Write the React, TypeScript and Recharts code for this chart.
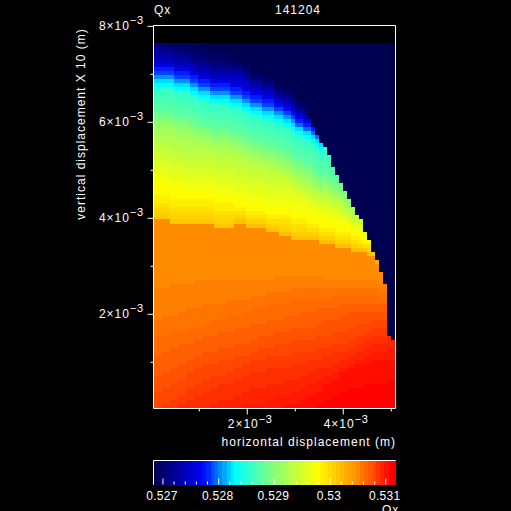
import { Scatter, ScatterChart, XAxis, YAxis } from 'recharts';

const FONT = '"Liberation Sans", sans-serif';
const WHITE = '#ffffff';

// Qx value of each level code used in QX_COLUMNS
const LEVEL_CODES = '0123456789abcdefghijklmnopqrstuvwxyzABCDEFGHIJKLMNOPQRSTUVWXYZ';
const QX_LEVELS = [
  0.52683, 0.52692, 0.527, 0.52709, 0.52718, 0.52727, 0.52735, 0.52744, 0.52753, 0.52761,
  0.5277, 0.52779, 0.52787, 0.52796, 0.52805, 0.52814, 0.52822, 0.52831, 0.5284, 0.52848,
  0.52857, 0.52866, 0.52874, 0.52883, 0.52892, 0.52901, 0.52909, 0.52918, 0.52927, 0.52935,
  0.52944, 0.52953, 0.52961, 0.5297, 0.52979, 0.52988, 0.52996, 0.53001, 0.53006, 0.53011,
  0.53016, 0.53021, 0.53025, 0.5303, 0.53035, 0.5304, 0.53045, 0.5305, 0.53055, 0.5306,
  0.53064, 0.53069, 0.53074, 0.53079, 0.53084, 0.53089, 0.53094, 0.53098, 0.53103, 0.53108,
  0.53113, 0.53118,
];

// rows at the top of each column that hold the lowest level
const NAVY_ROWS = [
  0, 0, 0, 0, 0, 0, 0, 0, 0, 0, 0, 1, 1, 1, 2, 2, 2, 2, 2, 4, 4, 4, 5, 5, 7, 7, 7, 8, 8, 8,
  10, 10, 11, 11, 12, 14, 14, 15, 19, 21, 23, 25, 26, 28, 31, 33, 35, 37, 39, 41, 43, 44, 47, 49, 52, 54, 57, 60, 73, 74,
];

// one string per column: rows under the navy | rows up to the bottom edge
const QX_COLUMNS = [
  '34567 9bcegh kkllmmnop qrrssttuuvvwwxx yyyzzABCD|LMMMMMMMMNNNNOOOOOPPPPPQQQQRRRR',
  '34567 9bcegh kkllmmnop qrrssttuuvvwwxx yyyzzABCD|LMMMMMMMMNNNNOOOOOPPPPPQQQQRRRR',
  '23567 9bcegh kkllmmnop qrrssttuuvvwwxx yyyzzABCD|LMMMMMMMNNNNNOOOOPPPPPQQQQRRRRS',
  '23567 9bcegh kkllmmnop qrrssttuuvvwwxx yyyzzABCD|LMMMMMMMNNNNNOOOOPPPPPQQQQRRRRS',
  '13467 9bcegh kkllmmnop qrrsssttuuvvwwxx yyyzzABCD|LMMMMMMMMNNNNOOOOPPPPPQQQQRRRRSS',
  '123467 9bcegh kkllmmnop qrrssttuuvvwwxx yyyzzABCD|LMMMMMMMMNNNNOOOOPPPPPQQQQRRRRSS',
  '123467 9bcegh kkllmmnop qrrssttuuvvwwxx yyyzzABCD|LMMMMMMMNNNNNOOOPPPPPQQQQRRRRSST',
  '123467 9bcegh kkllmmnop qrrssttuuvvwwxx yyyzzABCD|LMMMMMMMNNNNNOOOPPPPPQQQQRRRRSST',
  '123467 9bcegh kkllmmnop qrrsssttuuvvwwxx yyzzABCD|LMMMMMMNNNNNOOOOPPPPQQQRRRRSSSTT',
  '1123467 9bcegh kkllmmnop qrrssttuuvvwwxx yyzzABCD|LMMMMMMNNNNNOOOOPPPPQQQRRRRSSSTT',
  '1123467 9bcegh kkllmmnop qrrssttuuvvwwxx yyzzABCD|LMMMMMMMNNNNNOOOPPPPQQQRRRRSSSTTT',
  '1123467 9bcegh kkllmmnop qrssttuuvvwwxx yyzzABCD|LMMMMMMMNNNNNOOOPPPPQQQRRRRSSSTTT',
  '1123467 9bcegh kkllmmnop qrssttuuvvwwxx yyzzABCD|LMMMMMMNNNNNOOOPPPPQQQRRRRSSSTTTT',
  '1123467 9bcegh kkllmmnop qrssttuuvvwwxx yyzzABCD|LMMMMMMNNNNNOOOPPPPQQQRRRRSSSTTTT',
  '1123467 9bcegh kkllmmnop qrsttuuvvwwxx yyzzABCD|LMMMMMMNNNNOOOOPPPPQQQRRRSSSTTTTU',
  '1123467 9bcegh kkllmmnop qrssttuuvvwwxx yyzzABCD|LMMMMMMNNNNOOOOPPPPQQQRRRSSSTTTTU',
  '1123467 9bcegh kkllmmnop qrssttuuvvwwxx yyzzABCD|LMMMMMMNNNNOOOPPPPQQQRRRRSSTTTTUU',
  '1123467 9bcegh kkllmmnop qrssttuuvvwwxx yyzzABCD|LMMMMMMNNNNOOOPPPPQQQRRRRSSTTTTUU',
  '1123467 9bcegh kkllmmnop qrssttuuvvwwxx yyzzABCD|LMMMMMNNNNOOOOPPPPQQQRRRSSSTTTTUU',
  '1246789bcegh kkllmmnop qrsttuuvvwwxx yyzzABCD|LMMMMMNNNNOOOOPPPPQQQRRRSSSTTTTUU',
  '1246789bcegh kkllmmnop qrssttuuvvwwxx yyzACE|LMMMMMNNNNOOOPPPPQQQRRRSSSTTTTUUU',
  '1246789bcegh kkllmmnop qrssttuuvvwwxx yyzACE|LMMMMMNNNNOOOPPPPQQQRRRSSSTTTTUUU',
  '1246789bcegh kkllmmnop qrsttuuvvwwxx yyzACE|LMMMMMNNNOOOOPPPPQQQRRSSSTTTTUUUV',
  '1246789bcegh kkllmmnop qrssttuuvvwwxx yyzACE|LMMMMMNNNOOOOPPPPQQQRRSSSTTTTUUUV',
  '124689bcegh kkllmmnop qrsttuuvvwwxx yyzACE|LMMMMNNNOOOOPPPPQQQRRSSSTTTTUUUUV',
  '124689bcegh kkllmmnop qrsttuuvvwwxx yyzACE|LMMMMNNNOOOOPPPPQQQRRSSSTTTTUUUUV',
  '124689bcegh kkllmmnop qrsttuuvvwwxx yyzACE|LMMMMNNNOOOOPPPQQQRRRSSSTTTTUUUUV',
  '124689bcegh kkllmmnop qrstuuvvwwxx yyzACE|LMMMMNNNOOOOPPPQQQRRRSSSTTTTUUUUV',
  '124689bcegh kkllmmnop qrsttuuvvwwxx yyzACE|LMMMNNNOOOOPPPPQQQRRSSSTTTTUUUUVV',
  '124689bcegh kkllmmnop qrsttuuvvwwxx yyzACE|LMMMNNNOOOOPPPPQQQRRSSSTTTTUUUUVV',
  '12468acegh kkllmmnop qrstuuvvwwxx yyzACE|LMMMMNNNOOOOPPPQQQRRRSSSTTTTUUUVVV',
  '12468acegh kkllmmnop qrstuuvvwwxx yyzABCE|LMMMMNNNOOOOPPPQQQRRRSSSTTTTUUUVVV',
  '12468acegh kkllmmnop qrstuvvwwxx yyzABCE|LMMMMNNNOOOPPPPQQQRRRSSSTTTUUUUVVW',
  '12468acegh kkllmmnop qrstuvvwwxx yyzABCE|LMMMMNNNOOOPPPPQQQRRRSSSTTTUUUUVVW',
  '12468acegh kkllmmnop qrstuvvwwxx yyzABCE|LMMMNNNOOOOPPPQQQRRRSSSTTTTUUUVVVW',
  '12479bdgh kkllmmnop qrstuvwwxx yyzABCE|LMMMNNNOOOOPPPQQQRRRSSSTTTTUUUVVVW',
  '12479bdgh kkllmmnop qrstuvwwxx yyzABCE|LMMMNNNOOOPPPPQQQRRRSSSTTTUUUVVVWW',
  '12479bdgh kkllmmnop qrstuvwxx yyzABCE|LMMMNNNOOOPPPPQQQRRRSSSTTTUUUVVVWW',
  '9bdgh kkllmmnop qrstuvwwxx yyzACE|LMMMNNNOOOPPPPQQQRRRSSTTTUUUVVVWWW',
  'bdgh kkllmmnop qrstuvwxx yyzACE|LMMMNNNOOOPPPPQQQRRRSSTTTUUUVVVWWW',
  'dgh kkllmmnop qstuvwxx yyzACE|LMMMNNNOOPPPPQQQRRRSSSTTUUUVVVWWWX',
  'gh kkllmmnop qstuvwxx yyzACE|LMMMNNNOOPPPPQQQRRRSSSTTUUUVVVWWWX',
  'kkllmmnop qrstuvwxx yyzACE|LMMNNNOOPPPQQQQRRRSSTTTUUVVWWWWXX',
  'kllmmnop qstuvwxx yyzACE|LMMNNNOOPPPQQQQRRRSSTTTUUVVWWWWXX',
  'lmmnop qstuvwx yyzACE|LMMNNOOOPPPQQQRRRSSTTTUUVVWWWWXXX',
  'mnop qstuvwxx yyzACE|LMMNNOOOPPPQQQRRRSSTTTUUVVWWWWXXX',
  'nop qstuvwx yyzACE|LMMNNOOPPPQQQQRRRSSTTUUVWWWWWXXXX',
  'op qstuwx yyzACE|LMMNNOOPPPQQQQRRRSSTTUUVWWWWWXXXX',
  'p qstuwx yzACE|LMMNNOOPPQQQQRRRSSTTUUVWWWWWXXXXX',
  'rstuwx yzACE|LMMNNOOPPQQQQRRRSSTTUUVWWWWWXXXXX',
  'tuwx yzACE|LMMNNOOPPQQQRRRSSTTUUVWWWWWWXXXXX',
  'uvwx yzBE|LMMNNOOPPQQQRRRSSTTUUVWWWWWWXXXXX',
  'wx yAD|LMMNNOOPPQQQRRSSTTUUVVWWWWWXXXXXX',
  'yABE|LMMNNOOPPQQQRRSSTTUUVVWWWWWXXXXXX',
  'D|LMMNNOOPPQQRRSSTTUUVVWWWWWWXXXXXX',
  'H|LMMNNOOPPQQRRSSTTUUVVWWWWWWXXXXXX',
  '|LMMNNOPPQQRRSSTTUUVVWWWWWWXXXXXX',
  '|MNNOPPQQRRSSTTUUVVWWWWWWXXXXXX',
  '|UUUVVVWWWWWXXXXXXX',
  '|UUVVVWWWWWXXXXXXX',
];

const COLORBAR_VALUES = [
  0.52687, 0.52694, 0.52701, 0.52709, 0.52716, 0.52723, 0.5273, 0.52738, 0.52745, 0.52752,
  0.5276, 0.52767, 0.52774, 0.52781, 0.52789, 0.52796, 0.52803, 0.5281, 0.52818, 0.52825,
  0.52832, 0.5284, 0.52847, 0.52854, 0.52861, 0.52869, 0.52876, 0.52883, 0.5289, 0.52898,
  0.52905, 0.52912, 0.5292, 0.52927, 0.52934, 0.52941, 0.52949, 0.52956, 0.52963, 0.5297,
  0.52978, 0.52985, 0.52992, 0.53, 0.53007, 0.53014, 0.53021, 0.53029, 0.53036, 0.53043,
  0.5305, 0.53058, 0.53065, 0.53072, 0.5308, 0.53087, 0.53094, 0.53101, 0.53109, 0.53116,
];

const X_TICKS = [0.001, 0.002, 0.003, 0.004, 0.005];
const Y_TICKS = [0.001, 0.002, 0.003, 0.004, 0.005, 0.006, 0.007, 0.008];
const COLORBAR_TICKS = [
  0.527, 0.5272, 0.5274, 0.5276, 0.5278, 0.528, 0.5282, 0.5284, 0.5286, 0.5288, 0.529,
  0.5292, 0.5294, 0.5296, 0.5298, 0.53, 0.5302, 0.5304, 0.5306, 0.5308, 0.531,
];

const X_DOMAIN: [number, number] = [0.000046, 0.005088];
const Y_DOMAIN: [number, number] = [0.0000375, 0.008017];
const QX_DOMAIN: [number, number] = [0.52683, 0.531175];

// grid of the simulation, in metres
const ROWS = 91;
const COL_START = 0.000046;
const COL_STEP = 0.00008403;
const ROW_START = 0.007652;
const ROW_STEP = 0.00008356;

const COLOR_STOPS: [number, number[]][] = [
  [0.52683, [0, 0, 80]],
  [0.52763, [0, 0, 230]],
  [0.52776, [0, 16, 255]],
  [0.52829, [0, 255, 255]],
  [0.52894, [127, 255, 127]],
  [0.52977, [255, 255, 0]],
  [0.5305, [255, 140, 0]],
  [0.53109, [255, 0, 0]],
  [0.53118, [240, 0, 0]],
];

function qxColor(v: number) {
  for (let i = 1; i < COLOR_STOPS.length; i++) {
    const [v1, c1] = COLOR_STOPS[i];
    if (v <= v1) {
      const [v0, c0] = COLOR_STOPS[i - 1];
      const f = Math.max(0, (v - v0) / (v1 - v0));
      const c = c0.map((a, k) => Math.round(a + (c1[k] - a) * f));
      return `rgb(${c[0]},${c[1]},${c[2]})`;
    }
  }
  return 'rgb(240,0,0)';
}

const fieldCells = QX_COLUMNS.flatMap((column, c) => {
  const [top, bottom] = column.replace(/ /g, '').split('|');
  const upper = '0'.repeat(NAVY_ROWS[c]) + top;
  const codes = upper + bottom.padStart(ROWS - upper.length, bottom[0]).slice(upper.length - ROWS);
  return codes.split('').map((code, r) => ({
    x: COL_START + (c + 0.5) * COL_STEP,
    y: ROW_START - (r + 0.5) * ROW_STEP,
    qx: QX_LEVELS[LEVEL_CODES.indexOf(code)],
  }));
});

const colorbarCells = COLORBAR_VALUES.map((qx) => ({ x: qx, y: 0.5, qx }));

function HeatCell({ cx, cy, payload, w, h, bleed = 0, maxX = 396 }: any) {
  const x = Math.round(cx - w / 2);
  const y = Math.round(cy - h / 2);
  return (
    <rect
      x={x}
      y={y}
      width={Math.min(maxX, Math.round(cx + w / 2) + bleed) - x}
      height={Math.round(cy + h / 2) - y}
      fill={qxColor(payload.qx)}
    />
  );
}

function Power({ value, x, y, rise }: any) {
  return (
    <text x={x} y={y} textAnchor="end" fill={WHITE} fontFamily={FONT} fontSize={12} letterSpacing={1}>
      {`${value}×10`}
      <tspan dy={-rise} fontSize={11} letterSpacing={0.5}>−3</tspan>
    </text>
  );
}

function XTick({ x, y, payload, top }: any) {
  const major = Math.round(payload.value * 1000) % 2 === 0;
  const len = major ? 6 : 3;
  return (
    <g>
      <line x1={x} x2={x} y1={y} y2={top ? y - len : y + len} stroke={WHITE} />
      {major && !top && <Power value={Math.round(payload.value * 1000)} x={x + 25} y={y + 19} rise={5} />}
    </g>
  );
}

function YTick({ x, y, payload, right }: any) {
  const major = Math.round(payload.value * 1000) % 2 === 0;
  const len = major ? 6 : 3;
  return (
    <g>
      <line x1={x} x2={right ? x + len : x - len} y1={y} y2={y} stroke={WHITE} />
      {major && !right && <Power value={Math.round(payload.value * 1000)} x={x - 10} y={y + 4} rise={6} />}
    </g>
  );
}

function BarTick({ x, y, payload, top }: any) {
  const major = Math.round(payload.value * 10000) % 10 === 0;
  const len = major ? 6 : 3;
  return (
    <g>
      <line x1={x} x2={x} y1={y} y2={top ? y + len : y - len} stroke={WHITE} />
      {major && !top && (
        <text x={x - 1} y={y + 15} textAnchor="middle" fill={WHITE} fontFamily={FONT} fontSize={12} letterSpacing={0.3}>
          {payload.value}
        </text>
      )}
    </g>
  );
}

function Title({ x, y, children, ...rest }: any) {
  return (
    <text x={x} y={y} fill={WHITE} fontFamily={FONT} fontSize={12} letterSpacing={1} {...rest}>
      {children}
    </text>
  );
}

const page = { position: 'absolute', left: 0, top: 0, width: 511, height: 511 } as const;

export default function App() {
  return (
    <div style={{ ...page, background: '#000', overflow: 'hidden' }}>
      <div style={page}>
        <ScatterChart width={511} height={511} margin={{ top: 24.5, right: 114.5, bottom: 101.5, left: 152.5 }}>
          <XAxis
            xAxisId="bottom"
            type="number"
            dataKey="x"
            orientation="bottom"
            domain={X_DOMAIN}
            ticks={X_TICKS}
            interval={0}
            height={1}
            tickSize={0}
            tickMargin={0}
            stroke={WHITE}
            tick={(p: any) => <XTick {...p} />}
          />
          <XAxis
            xAxisId="top"
            type="number"
            dataKey="x"
            orientation="top"
            domain={X_DOMAIN}
            ticks={X_TICKS}
            interval={0}
            height={1}
            tickSize={0}
            tickMargin={0}
            stroke={WHITE}
            tick={(p: any) => <XTick {...p} top />}
          />
          <YAxis
            yAxisId="left"
            type="number"
            dataKey="y"
            orientation="left"
            domain={Y_DOMAIN}
            ticks={Y_TICKS}
            interval={0}
            width={1}
            tickSize={0}
            tickMargin={0}
            stroke={WHITE}
            tick={(p: any) => <YTick {...p} />}
          />
          <YAxis
            yAxisId="right"
            type="number"
            dataKey="y"
            orientation="right"
            domain={Y_DOMAIN}
            ticks={Y_TICKS}
            interval={0}
            width={1}
            tickSize={0}
            tickMargin={0}
            stroke={WHITE}
            tick={(p: any) => <YTick {...p} right />}
          />
          <Scatter
            xAxisId="bottom"
            yAxisId="left"
            data={fieldCells}
            isAnimationActive={false}
            shape={(p: any) => <HeatCell {...p} w={4.033} h={4.011} />}
          />
          <Scatter xAxisId="top" yAxisId="right" data={[]} isAnimationActive={false} />
          <Title x={154} y={14}>Qx</Title>
          <Title x={275} y={14}>141204</Title>
          <Title x={396} y={446} textAnchor="end">horizontal displacement (m)</Title>
          <Title x={85} y={124} textAnchor="middle" transform="rotate(-90 85 124)">
            vertical displacement X 10 (m)
          </Title>
        </ScatterChart>
      </div>
      <div style={page}>
        <ScatterChart width={511} height={511} margin={{ top: 459.5, right: 114.5, bottom: 25.5, left: 152.5 }}>
          <XAxis
            xAxisId="bottom"
            type="number"
            dataKey="x"
            orientation="bottom"
            domain={QX_DOMAIN}
            ticks={COLORBAR_TICKS}
            interval={0}
            height={1}
            tickSize={0}
            tickMargin={0}
            stroke={WHITE}
            tick={(p: any) => <BarTick {...p} />}
          />
          <XAxis
            xAxisId="top"
            type="number"
            dataKey="x"
            orientation="top"
            domain={QX_DOMAIN}
            ticks={COLORBAR_TICKS}
            interval={0}
            height={1}
            tickSize={0}
            tickMargin={0}
            stroke={WHITE}
            tick={(p: any) => <BarTick {...p} top />}
          />
          <YAxis yAxisId="left" type="number" dataKey="y" orientation="left" domain={[0, 1]} ticks={[]} width={1} stroke={WHITE} />
          <YAxis yAxisId="right" type="number" dataKey="y" orientation="right" domain={[0, 1]} ticks={[]} width={1} stroke={WHITE} />
          <Scatter
            xAxisId="bottom"
            yAxisId="left"
            data={colorbarCells}
            isAnimationActive={false}
            shape={(p: any) => <HeatCell {...p} w={4.04} h={24} bleed={1} />}
          />
          <Scatter xAxisId="top" yAxisId="right" data={[]} isAnimationActive={false} />
          <Title x={382} y={514}>Qx</Title>
        </ScatterChart>
      </div>
    </div>
  );
}
